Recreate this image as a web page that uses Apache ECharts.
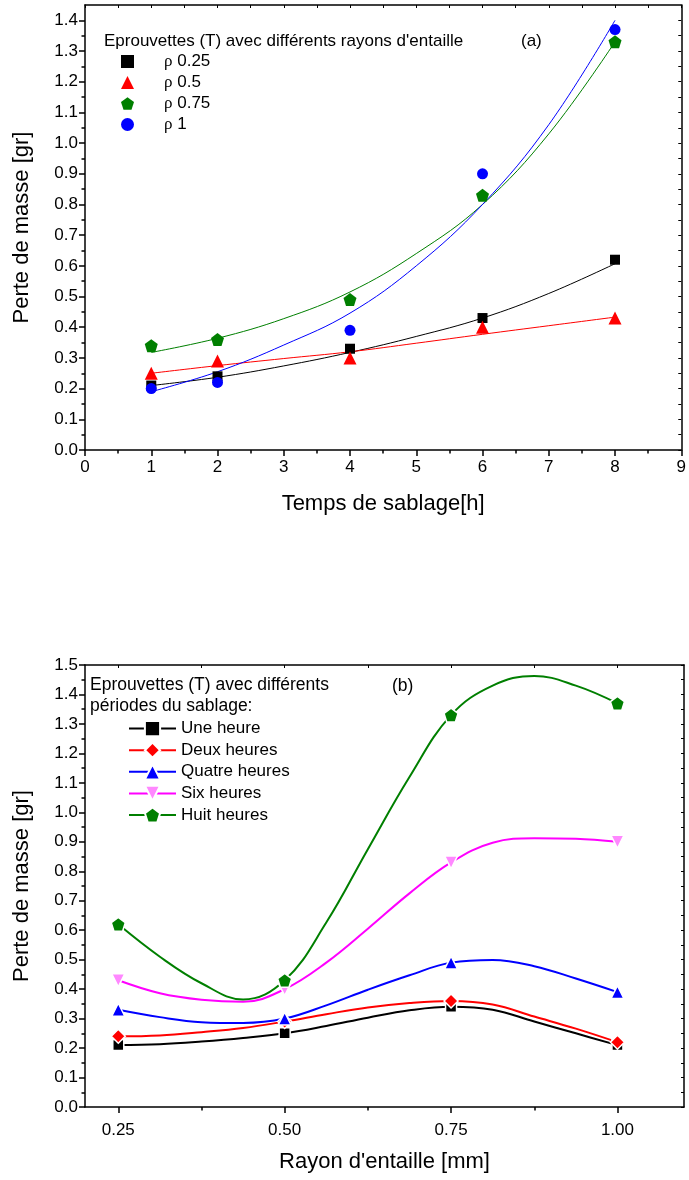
<!DOCTYPE html>
<html><head><meta charset="utf-8">
<script src="https://cdn.jsdelivr.net/npm/echarts@6/dist/echarts.min.js"></script>
<style>html,body{margin:0;padding:0;background:#fff}#c{width:689px;height:1180px}</style>
</head><body><div id="c"></div>
<script>
// ===== Chart (a) data =====
const hoursA = [1, 2, 4, 6, 8];
const rho025 = [0.21, 0.24, 0.33, 0.43, 0.62];
const rho05  = [0.25, 0.29, 0.30, 0.40, 0.43];
const rho075 = [0.34, 0.36, 0.49, 0.83, 1.33];
const rho1   = [0.20, 0.22, 0.39, 0.90, 1.37];
// fitted curves at each hour
const fitHours = [1, 2, 3, 4, 5, 6, 7, 8];
const fit025 = [0.21, 0.237, 0.274, 0.318, 0.37, 0.43, 0.51, 0.607];
const fit05  = [0.25, 0.275, 0.298, 0.32, 0.348, 0.377, 0.405, 0.433];
const fit075 = [0.318, 0.364, 0.428, 0.515, 0.64, 0.80, 1.03, 1.33];
const fit1   = [0.19, 0.255, 0.342, 0.446, 0.60, 0.80, 1.06, 1.40];
const namesA = ['ρ 0.25', 'ρ 0.5', 'ρ 0.75', 'ρ 1'];
const xMajorA = [0, 1, 2, 3, 4, 5, 6, 7, 8, 9];
const xMinorA = [0.5, 1.5, 2.5, 3.5, 4.5, 5.5, 6.5, 7.5, 8.5];
const yMajorA = [0, 0.1, 0.2, 0.3, 0.4, 0.5, 0.6, 0.7, 0.8, 0.9, 1.0, 1.1, 1.2, 1.3, 1.4];
const yMinorA = [0.05, 0.15, 0.25, 0.35, 0.45, 0.55, 0.65, 0.75, 0.85, 0.95, 1.05, 1.15, 1.25, 1.35];

// ===== Chart (b) data =====
const radii  = [0.25, 0.5, 0.75, 1.0];
const une    = [0.21, 0.25, 0.34, 0.21];
const deux   = [0.24, 0.29, 0.36, 0.22];
const quatre = [0.33, 0.30, 0.49, 0.39];
const six    = [0.43, 0.40, 0.83, 0.90];
const huit   = [0.62, 0.43, 1.33, 1.37];
// spline curves
const curveR      = [0.3125, 0.375, 0.4375, 0.5625, 0.625, 0.6875, 0.8125, 0.875, 0.9375];
const uneCurve    = [0.213, 0.222, 0.234, 0.275, 0.303, 0.328, 0.330, 0.290, 0.250];
const deuxCurve   = [0.243, 0.254, 0.268, 0.315, 0.338, 0.353, 0.348, 0.307, 0.266];
const quatreCurve = [0.305, 0.288, 0.285, 0.345, 0.398, 0.447, 0.499, 0.478, 0.436];
const sixCurve    = [0.386, 0.364, 0.357, 0.490, 0.605, 0.725, 0.897, 0.912, 0.910];
const huitCurve   = [0.510, 0.420, 0.365, 0.626, 0.875, 1.120, 1.430, 1.463, 1.430];
const namesB = ['Une heure', 'Deux heures', 'Quatre heures', 'Six heures', 'Huit heures'];
const xMajorB = [0.25, 0.5, 0.75, 1.0];
const xMinorB = [0.375, 0.625, 0.875];
const yMajorB = [0, 0.1, 0.2, 0.3, 0.4, 0.5, 0.6, 0.7, 0.8, 0.9, 1.0, 1.1, 1.2, 1.3, 1.4, 1.5];
const yMinorB = [0.05, 0.15, 0.25, 0.35, 0.45, 0.55, 0.65, 0.75, 0.85, 0.95, 1.05, 1.15, 1.25, 1.35, 1.45];

const FONT = 'Liberation Sans, Arial, sans-serif';
const PENT = 'path://M50,0 L97.6,34.5 L79.4,90.5 L20.6,90.5 L2.4,34.5 Z';
const BLK = '#000';
const lineStyle = {color: BLK, width: 1.5};

function axes(gi, xmin, xmax, xMaj, xMin, ymin, ymax, yMaj, yMin, xName, yName, xFmt, xMargin, xNameGap) {
  const xs = [
    {type: 'value', gridIndex: gi, min: xmin, max: xmax, position: 'bottom',
     axisLine: {show: true, onZero: false, lineStyle},
     axisTick: {show: true, customValues: xMaj, length: 6, lineStyle},
     axisLabel: {customValues: xMaj, formatter: xFmt, margin: xMargin, color: BLK, fontSize: 17, fontFamily: FONT},
     splitLine: {show: false},
     name: xName, nameLocation: 'middle', nameGap: xNameGap,
     nameTextStyle: {color: BLK, fontSize: 22, fontFamily: FONT}},
    {type: 'value', gridIndex: gi, min: xmin, max: xmax, position: 'bottom',
     axisLine: {show: false, onZero: false},
     axisTick: {show: true, customValues: xMin, length: 3.5, lineStyle},
     axisLabel: {show: false}, splitLine: {show: false}},
    {type: 'value', gridIndex: gi, min: xmin, max: xmax, position: 'top',
     axisLine: {show: true, onZero: false, lineStyle},
     axisTick: {show: true, inside: true, customValues: xMaj.concat(xMin), length: 3, lineStyle: {color: BLK, width: 1}},
     axisLabel: {show: false}, splitLine: {show: false}}
  ];
  const ys = [
    {type: 'value', gridIndex: gi, min: ymin, max: ymax, position: 'left',
     axisLine: {show: true, onZero: false, lineStyle},
     axisTick: {show: true, customValues: yMaj, length: 6, lineStyle},
     axisLabel: {customValues: yMaj, formatter: v => v.toFixed(1), margin: 7, color: BLK, fontSize: 17, fontFamily: FONT},
     splitLine: {show: false},
     name: yName, nameLocation: 'middle', nameGap: 52,
     nameTextStyle: {color: BLK, fontSize: 22, fontFamily: FONT}},
    {type: 'value', gridIndex: gi, min: ymin, max: ymax, position: 'left',
     axisLine: {show: false, onZero: false},
     axisTick: {show: true, customValues: yMin, length: 3.5, lineStyle},
     axisLabel: {show: false}, splitLine: {show: false}},
    {type: 'value', gridIndex: gi, min: ymin, max: ymax, position: 'right',
     axisLine: {show: true, onZero: false, lineStyle},
     axisTick: {show: true, inside: true, customValues: yMaj.concat(yMin), length: 3, lineStyle: {color: BLK, width: 1}},
     axisLabel: {show: false}, splitLine: {show: false}}
  ];
  return {xs, ys};
}

const A = axes(0, 0, 9, xMajorA, xMinorA, 0, 1.45, yMajorA, yMinorA,
  'Temps de sablage[h]', 'Perte de masse [gr]', v => String(v), 9, 43);
const B = axes(1, 0.2, 1.1, xMajorB, xMinorB, 0, 1.5, yMajorB, yMinorB,
  "Rayon d'entaille [mm]", 'Perte de masse [gr]', v => v.toFixed(2), 15, 44);

const pairs = (xs, ys) => xs.map((x, i) => [x, ys[i]]);

// chart (a) series
const specA = [
  {name: namesA[0], pts: rho025, fit: fit025, color: '#000000', symbol: 'rect', size: 10},
  {name: namesA[1], pts: rho05, fit: fit05, color: '#ff0000', symbol: 'triangle', size: 13},
  {name: namesA[2], pts: rho075, fit: fit075, color: '#007f00', symbol: PENT, size: 13},
  {name: namesA[3], pts: rho1, fit: fit1, color: '#0000ff', symbol: 'circle', size: 11}
];
const series = [];
specA.forEach(s => {
  series.push({type: 'line', name: s.name + ' fit', xAxisIndex: 0, yAxisIndex: 0,
    data: pairs(fitHours, s.fit), smooth: 0.4, symbol: 'none',
    lineStyle: {color: s.color, width: 1}, silent: true, z: 2});
});
specA.forEach(s => {
  series.push({type: 'scatter', name: s.name, xAxisIndex: 0, yAxisIndex: 0,
    data: pairs(hoursA, s.pts), symbol: s.symbol, symbolSize: s.size,
    itemStyle: {color: s.color, opacity: 1}, z: 3});
});

// chart (b) series: markers + read spline points in one line each
const specB = [
  {name: namesB[0], pts: une, curve: uneCurve, color: '#000000', mcolor: '#000000', symbol: 'rect', size: 11, rot: 0},
  {name: namesB[1], pts: deux, curve: deuxCurve, color: '#ff0000', mcolor: '#ff0000', symbol: 'diamond', size: 14, rot: 0},
  {name: namesB[2], pts: quatre, curve: quatreCurve, color: '#0000ff', mcolor: '#0000ff', symbol: 'triangle', size: 13, rot: 0},
  {name: namesB[3], pts: six, curve: sixCurve, color: '#ff00ff', mcolor: '#ff88ff', symbol: 'triangle', size: 13, rot: 180},
  {name: namesB[4], pts: huit, curve: huitCurve, color: '#007f00', mcolor: '#007f00', symbol: PENT, size: 14, rot: 0}
];
specB.forEach(s => {
  const items = [];
  radii.forEach((r, i) => items.push({value: [r, s.pts[i]]}));
  curveR.forEach((r, i) => items.push({value: [r, s.curve[i]], symbol: 'none'}));
  items.sort((a, b) => a.value[0] - b.value[0]);
  series.push({type: 'line', name: s.name, xAxisIndex: 3, yAxisIndex: 3,
    data: items, smooth: 0.4, symbol: s.symbol, symbolSize: s.size, symbolRotate: s.rot,
    showAllSymbol: true,
    lineStyle: {color: s.color, width: 2},
    itemStyle: {color: s.mcolor, borderColor: '#fff', borderWidth: 1.5, opacity: 1}});
});

const option = {
  backgroundColor: '#fff',
  animation: false,
  grid: [
    {left: 85, top: 5, width: 600, height: 445},
    {left: 85, top: 665, width: 599, height: 442}
  ],
  xAxis: A.xs.concat(B.xs),
  yAxis: A.ys.concat(B.ys),
  title: [
    {text: "Eprouvettes (T) avec différents rayons d'entaille", left: 104, top: 33, padding: 0,
     textStyle: {fontSize: 17, fontWeight: 'normal', color: BLK, fontFamily: FONT}},
    {text: '(a)', left: 521, top: 33, padding: 0,
     textStyle: {fontSize: 17, fontWeight: 'normal', color: BLK, fontFamily: FONT}},
    {text: 'Eprouvettes (T) avec différents\npériodes du sablage:', left: 90, top: 675, padding: 0,
     textStyle: {fontSize: 17.5, fontWeight: 'normal', color: BLK, fontFamily: FONT, lineHeight: 21}},
    {text: '(b)', left: 392, top: 677, padding: 0,
     textStyle: {fontSize: 17.5, fontWeight: 'normal', color: BLK, fontFamily: FONT}}
  ],
  legend: [
    {data: namesA, orient: 'vertical', left: 121, top: 53, padding: 0,
     itemWidth: 13, itemHeight: 13, itemGap: 4,
     formatter: n => '{g|ρ}' + n.slice(1),
     textStyle: {fontSize: 17, color: BLK, fontFamily: FONT, padding: [0, 0, 0, 25],
       rich: {g: {fontFamily: 'Liberation Serif, serif', fontSize: 17, color: BLK}}}},
    {data: namesB, orient: 'vertical', left: 128, top: 720, padding: 0,
     itemWidth: 47, itemHeight: 19, itemGap: 4.4,
     textStyle: {fontSize: 17, color: BLK, fontFamily: FONT}}
  ],
  series
};

const chart = echarts.init(document.getElementById('c'), null, {renderer: 'canvas'});
chart.setOption(option);
</script>
</body></html>
